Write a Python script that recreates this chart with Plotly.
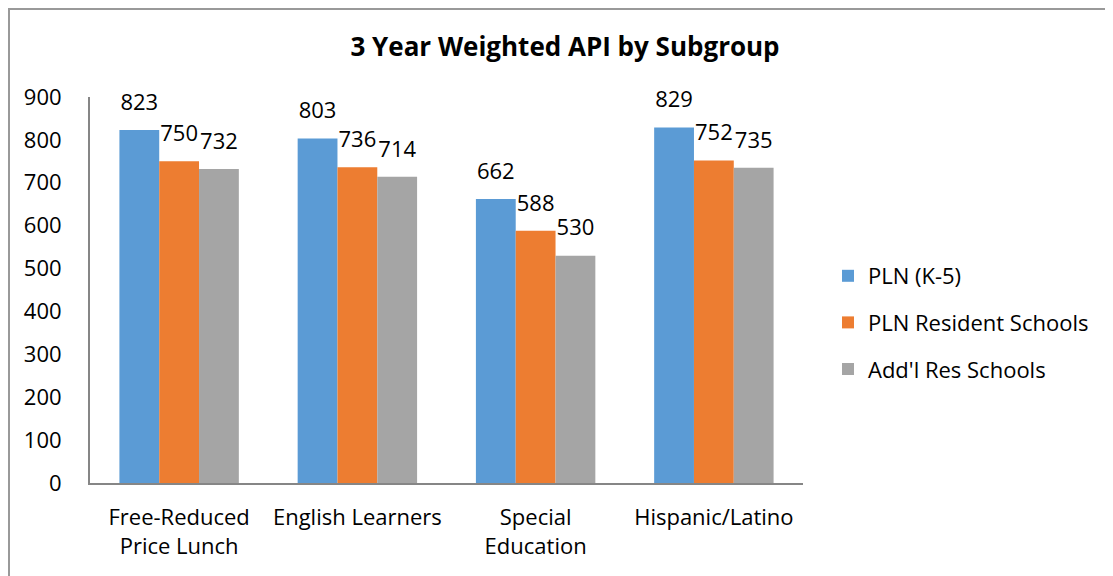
import plotly.graph_objects as go

categories = ["Free-Reduced<br>Price Lunch", "English Learners", "Special<br>Education", "Hispanic/Latino"]
series_names = ["PLN (K-5)", "PLN Resident Schools", "Add'l Res Schools"]
pln_k5 = [823, 803, 662, 829]
pln_resident = [750, 736, 588, 752]
addl_res = [732, 714, 530, 735]
y_ticks = [0, 100, 200, 300, 400, 500, 600, 700, 800, 900]

colors = ["#5B9BD5", "#ED7D31", "#A5A5A5"]
FONT = "Open Sans"

OFF = 8  # page body margin
W, H = 1113 - OFF, 576 - OFF
L, T = 90 - OFF, 97 - OFF
R = W - (803 - OFF)
B = H - (483 - OFF)
pw, ph = W - L - R, H - T - B

def px_to_paper_x(px):
    return (px - OFF - L) / pw

def px_to_paper_y(py):
    return (H - B - (py - OFF)) / ph

series = [pln_k5, pln_resident, addl_res]
fig = go.Figure()
for i, (name, vals) in enumerate(zip(series_names, series)):
    fig.add_trace(go.Bar(
        x=categories, y=vals, name=name,
        marker=dict(color=colors[i], line=dict(width=0)),
        cliponaxis=False, legendgroup=f"g{i}", offsetgroup=f"o{i}",
    ))
for i, (name, vals) in enumerate(zip(series_names, series)):
    fig.add_trace(go.Scatter(
        x=categories, y=vals, mode="text+markers", showlegend=False,
        marker=dict(size=22, opacity=0, color=colors[i]),
        text=[str(v) for v in vals], textposition="top center",
        textfont=dict(size=22, color="#000000", family=FONT),
        cliponaxis=False, offsetgroup=f"o{i}", hoverinfo="skip",
    ))

fig.update_layout(
    width=W, height=H,
    margin=dict(l=L, r=R, t=T, b=B),
    paper_bgcolor="white", plot_bgcolor="white",
    font=dict(family=FONT, size=22, color="#000000"),
    barmode="group", bargap=0.33, bargroupgap=0,
    scattermode="group", scattergap=0.33,
    title=dict(text="<b>3 Year Weighted API by Subgroup</b>", x=(565 - OFF) / W, xref="container",
               y=1 - (47 - OFF) / H, yref="container", xanchor="center", yanchor="middle",
               font=dict(size=26, family=FONT, color="#000000")),
    showlegend=True,
    legend=dict(x=px_to_paper_x(828), y=px_to_paper_y(255), xanchor="left", yanchor="top",
                font=dict(size=22, family=FONT), tracegroupgap=15, itemwidth=30,
                bgcolor="rgba(0,0,0,0)"),
    xaxis=dict(showgrid=False, showline=True, linecolor="#868686", linewidth=2,
               ticks="", tickfont=dict(size=22, family=FONT), fixedrange=True,
               ticklabelstandoff=14),
    yaxis=dict(range=[0, 900], tickvals=y_ticks, showgrid=False, showline=True,
               linecolor="#868686", linewidth=2, ticks="", zeroline=False,
               tickfont=dict(size=22, family=FONT), ticklabelstandoff=22),
    shapes=[dict(type="rect", xref="paper", yref="paper",
                 x0=px_to_paper_x(OFF + 1), x1=px_to_paper_x(1130),
                 y0=px_to_paper_y(600), y1=px_to_paper_y(OFF + 1),
                 line=dict(color="#999999", width=2), fillcolor="rgba(0,0,0,0)",
                 layer="below")],
)

fig.write_html("out.html")
